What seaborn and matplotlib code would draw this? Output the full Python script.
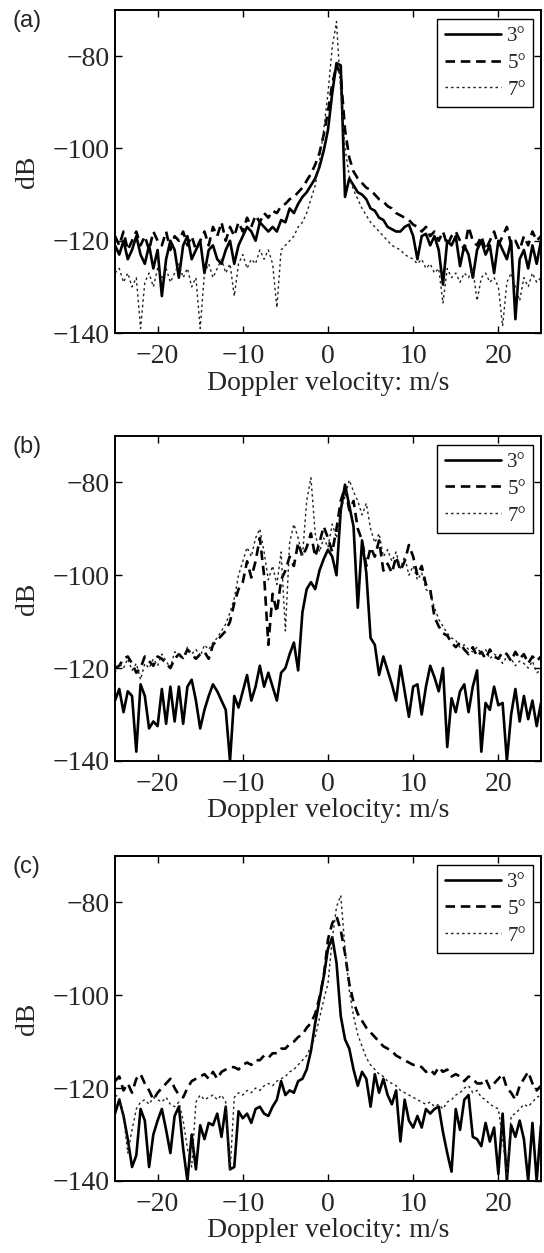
import numpy as np
import pandas as pd
import matplotlib
matplotlib.use("Agg")
import matplotlib.pyplot as plt
import seaborn as sns

# --- Data (0.5 m/s spacing) ---
velocity = np.linspace(-25, 25, 101)
angles = ["3°", "5°", "7°"]

a_3deg = [-121, -123, -120, -124, -122, -119, -123, -125, -121, -126,
          -122, -132, -124, -120, -122, -128, -121, -119, -124, -122,
          -120, -127, -122, -121, -124, -125, -122, -120, -125, -121,
          -119, -117, -118, -120, -116, -117, -118, -117, -118, -115.5,
          -116, -113, -114, -112, -110.5, -109.5, -108, -106.5, -104, -100.5,
          -96, -88, -81.5, -82, -110.5, -106.5, -108, -109.5, -110, -111,
          -113, -113.5, -115, -115.5, -117, -117.5, -118, -118, -117, -116.5,
          -119, -124, -119, -118.5, -121, -119, -122, -129.5, -120, -121,
          -119, -125.5, -121, -123, -128, -122, -120, -123, -121, -127,
          -120, -122, -124, -120, -137, -124, -122, -126, -121, -125,
          -120]
a_5deg = [-119, -121, -118, -122, -120, -118, -121, -119, -122, -118,
          -120, -121, -118, -122, -119, -120, -118, -121, -119, -122,
          -120, -118, -121, -117, -119, -116, -120, -117, -119, -116,
          -118, -115, -117, -114.5, -116, -114, -115, -113.5, -114, -112.5,
          -112, -111, -110.5, -109.5, -108.5, -107, -105.5, -103.5, -101, -97,
          -92, -86, -82, -84, -96, -102, -105, -106.5, -107.5, -108.5,
          -109, -110, -111, -111.5, -112.5, -113, -114, -114.5, -115, -115.5,
          -116.5, -117, -118, -117, -119, -118, -120, -118, -121, -119,
          -118, -120, -122, -117, -120, -121, -119, -122, -120, -118,
          -121, -119, -117, -121, -120, -122, -119, -121, -118, -120,
          -119]
a_7deg = [-127, -126, -129, -127, -130, -128, -139, -129, -127, -130,
          -126, -128, -126, -129, -127, -125, -128, -126, -130, -128,
          -139, -127, -125, -128, -126, -124, -127, -125, -132, -125,
          -123, -126, -124, -125, -122, -124, -122, -125, -134.5, -122,
          -121, -120, -119, -117, -116, -114, -111, -108, -103, -96,
          -88, -78, -72.5, -88, -100, -106, -109, -111, -113, -114.5,
          -116, -117, -118, -119, -120, -121, -121.5, -122, -123, -123.5,
          -124, -125, -124, -126, -125, -127, -126, -133.5, -126, -128,
          -127, -129, -127, -128, -126, -133, -128, -127, -129, -128,
          -130, -138.5, -129, -127, -130, -133, -128, -130, -127, -129,
          -128]

b_3deg = [-127, -124.5, -129.5, -125, -126, -138, -123.5, -126, -133, -131.5,
          -132.5, -124.5, -132, -124, -131.5, -124, -132, -124, -122.5, -127,
          -133, -129, -126, -123.5, -125, -127, -129, -140, -126, -128.5,
          -125, -121.5, -127, -124, -119.5, -124, -121, -124, -127, -121,
          -120, -117, -114.5, -120.5, -108, -103, -101.5, -103, -99, -96.5,
          -94.5, -96, -100, -86, -80.5, -85, -89.5, -107, -92.5, -99.5,
          -113.5, -115, -121.5, -117.5, -120.5, -123.5, -127, -119.5, -125, -130.5,
          -124, -123.5, -130, -124, -119.5, -122, -125, -120, -137, -126.5,
          -129.5, -125, -123.5, -129.5, -124, -120.5, -138, -127.5, -129, -124,
          -128, -127.5, -140, -130, -124.5, -131.5, -126, -131, -127, -132.5,
          -127.5]
b_5deg = [-120, -119.5, -118, -117.5, -119, -121, -120, -117.5, -118.5, -119.5,
          -117.5, -118, -119, -120, -118, -117, -118, -116, -117, -118,
          -117, -116.5, -118, -115, -114, -113, -112, -110, -106, -103,
          -101.5, -97, -100.5, -97, -92, -100, -115, -104, -108, -101,
          -99, -96, -98, -93, -96, -94, -91, -96, -93, -89.5,
          -92, -95, -90, -84, -81, -86, -84, -90, -92.5, -98,
          -94, -96, -92.5, -99, -97.5, -99.5, -96, -99, -97, -93.5,
          -96, -100, -98, -102, -103, -109, -111, -112.5, -113, -114.5,
          -115.5, -114.5, -116, -117, -115.5, -117.5, -116.5, -118, -116, -117.5,
          -118, -116.5, -117, -118.5, -116.5, -118, -117, -119, -117.5, -118.5,
          -117.5]
b_7deg = [-121, -119, -120, -118, -120.5, -119, -122.5, -119, -120, -118,
          -119.5, -117, -118.5, -120, -116.5, -117, -118, -115.5, -117, -116,
          -117.5, -115, -116, -114.5, -113.5, -112, -110.5, -108, -105, -100,
          -97, -94, -96, -92, -90, -95, -101, -98, -102, -95,
          -112, -93, -89, -92, -96, -84, -79, -91, -95, -92,
          -94, -89, -92, -86, -83, -79.5, -82, -84, -87, -84.5,
          -90, -93, -91, -96, -94.5, -97, -95, -98.5, -96, -100,
          -98, -101, -99.5, -103, -104, -107, -109.5, -111, -112.5, -113.5,
          -114, -115.5, -115, -116, -116.5, -115.5, -117, -116, -118, -117,
          -117.5, -119, -117.5, -118, -119.5, -118.5, -119, -120, -118.5, -121,
          -120.5]

c_3deg = [-125.5, -122.5, -126, -131, -137, -134.5, -124.5, -127, -137, -130,
          -127, -124.5, -129, -134, -126, -124, -133, -140, -130, -137.5,
          -128, -131, -127.5, -128, -125.5, -130.5, -124, -137.5, -137, -125,
          -126.5, -125.5, -127.5, -124.5, -124, -125.5, -126, -124, -122.5, -118.5,
          -121.5, -120.5, -121, -118.5, -118, -116, -112, -106, -101, -96,
          -90, -87.5, -93, -104.5, -109.5, -111.5, -116, -119.5, -116.5, -118,
          -124, -117, -121, -118, -121.5, -123.5, -120.5, -131.5, -122.5, -127,
          -128.5, -126, -128.5, -124.5, -125.5, -124.5, -124, -129.5, -134, -138,
          -124.5, -129, -122.5, -121.5, -130.5, -131, -132.5, -127.5, -131.5, -128.5,
          -138.5, -125.5, -140, -128, -130.5, -127, -131, -140, -127.5, -140,
          -128]
c_5deg = [-118.5, -117.5, -120.5, -119, -121, -118, -117, -119, -120.5, -122.5,
          -121, -120, -119, -118, -120, -121.5, -122, -120, -118.5, -118,
          -117.5, -117, -118, -116.5, -118, -116.5, -116, -115.5, -115.5, -116,
          -115, -114.5, -115, -114, -114, -113, -113.5, -112.5, -112.5, -111.5,
          -111.5, -110.5, -110, -109, -108.5, -107, -106, -104, -100.5, -96,
          -88, -84.5, -83, -86, -91, -97.5, -101.5, -104, -105.5, -107,
          -108, -109, -110, -111, -111.5, -112, -113, -113.5, -114, -114.5,
          -115, -115, -115.5, -116.5, -116, -117, -115.5, -116.5, -116, -117.5,
          -117, -117.5, -118.5, -117.5, -118, -119, -119, -118, -120, -119,
          -118, -117, -120, -121, -122.5, -119.5, -118, -116.5, -119, -120.5,
          -119.5]
c_7deg = [-121.5, -122, -126, -134, -129, -124.5, -123, -122.5, -123.5, -122,
          -122.5, -123, -122, -123.5, -124, -123, -127, -133, -137, -123,
          -121.5, -122.5, -122, -121.5, -122.5, -121.5, -123, -138, -122, -121,
          -121.5, -120.5, -121, -120, -120.5, -119.5, -119, -119.5, -118.5, -118,
          -117.5, -116.5, -116, -115, -114, -113, -111, -109, -105, -101,
          -97.5, -88, -81, -78.5, -90, -99, -104.5, -108.5, -111, -113.5,
          -115, -116, -117, -117.5, -118.5, -119, -119.5, -120.5, -121, -121.5,
          -122, -122.5, -123, -123.5, -123, -124, -123.5, -124.5, -123, -122.5,
          -121.5, -121, -120, -119.5, -121, -120.5, -122, -122.5, -123.5, -124,
          -124.5, -131, -139, -126, -125.5, -124.5, -123.5, -124, -123, -122,
          -121.5]

panels = [
    ("(a)", [a_3deg, a_5deg, a_7deg]),
    ("(b)", [b_3deg, b_5deg, b_7deg]),
    ("(c)", [c_3deg, c_5deg, c_7deg]),
]

# --- Style ---
sns.set_style("ticks")
plt.rcParams["font.family"] = ["Liberation Serif", "DejaVu Serif"]

line_styles = {
    "3°": dict(color="black", linewidth=1.9, linestyle="-"),
    "5°": dict(color="black", linewidth=1.9, linestyle=(0, (3.6, 2.2))),
    "7°": dict(color="#222222", linewidth=1.0, linestyle=(0, (1.8, 2.2))),
}

fig = plt.figure(figsize=(5.44, 12.53), dpi=100)

# axes boxes in figure fraction: [left, bottom, width, height]
boxes = [
    [0.2114, 0.7342, 0.7830, 0.2578],
    [0.2114, 0.3927, 0.7830, 0.2594],
    [0.2114, 0.0575, 0.7830, 0.2594],
]
label_y = [1 - 21 / 1253, 1 - 447 / 1253, 1 - 867 / 1253]

for (tag, series), box, ly in zip(panels, boxes, label_y):
    ax = fig.add_axes(box)
    df = pd.DataFrame({"v": np.tile(velocity, 3),
                       "dB": np.concatenate(series),
                       "angle": np.repeat(angles, len(velocity))})
    for ang in angles:
        sub = df[df["angle"] == ang]
        sns.lineplot(data=sub, x="v", y="dB", ax=ax, label=ang,
                     estimator=None, sort=False, **line_styles[ang])

    ax.set_xlim(-25, 25)
    ax.set_ylim(-140, -70)
    ax.set_xticks([-20, -10, 0, 10, 20])
    ax.set_yticks([-80, -100, -120, -140])
    ax.set_xticklabels(["\u221220", "\u221210", "0", "10", "20"])
    ax.set_yticklabels(["\u221280", "\u2212100", "\u2212120", "\u2212140"])
    ax.tick_params(direction="in", length=5, width=1.0, labelsize=20,
                   top=True, right=True, color="black")
    ax.tick_params(axis="x", pad=8)
    ax.tick_params(axis="y", pad=4)
    for sp in ax.spines.values():
        sp.set_linewidth(1.4)
        sp.set_color("black")
    ax.set_xlabel("Doppler velocity: m/s", fontsize=20, labelpad=1)
    ax.set_ylabel("dB", fontsize=20, labelpad=9)

    leg = ax.legend(loc="upper right", bbox_to_anchor=(0.982, 0.972),
                    borderaxespad=0, fancybox=False, frameon=True,
                    fontsize=15, handlelength=2.7, handletextpad=0.3,
                    labelspacing=0.35, borderpad=0.35)
    leg.get_frame().set_edgecolor("black")
    leg.get_frame().set_linewidth(1.0)
    leg.get_frame().set_alpha(1)

    fig.text(12 / 544, ly, tag, fontsize=17, family=["Liberation Sans", "DejaVu Sans"],
             ha="left", va="center")

fig.savefig("out.png", dpi=100)
